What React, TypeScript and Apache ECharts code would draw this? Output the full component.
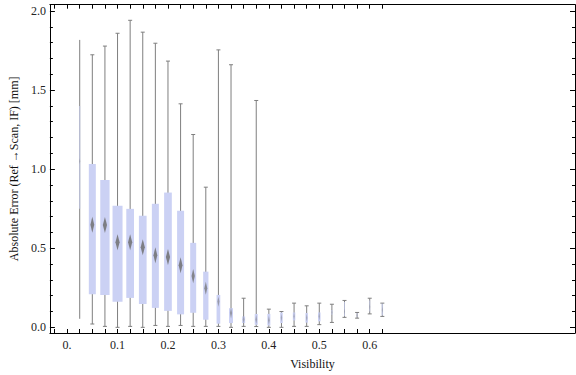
import React, { useEffect, useRef } from "react";
import * as echarts from "echarts";

// Visibility bins (box positions)
const visibility = [
  0.025, 0.05, 0.075, 0.1, 0.125, 0.15, 0.175, 0.2, 0.225, 0.25, 0.275, 0.3, 0.325,
  0.35, 0.375, 0.4, 0.425, 0.45, 0.475, 0.5, 0.525, 0.55, 0.575, 0.6, 0.625,
];
const whiskerLow = [
  0.054, 0.021, 0.006, 0.0, 0.006, 0.0, 0.012, 0.006, 0.012, 0.006, 0.006, 0.006, 0.0,
  0.006, 0.005, 0.0, 0.0, 0.006, 0.006, 0.017, 0.031, 0.063, 0.058, 0.085, 0.069,
];
const quartile1 = [
  0.75, 0.209, 0.205, 0.161, 0.186, 0.148, 0.123, 0.104, 0.082, 0.092, 0.048, 0.023, 0.027,
  0.027, 0.016, 0.012, 0.027, 0.044, 0.03, 0.038, 0.08, 0.07, 0.065, 0.1, 0.075,
];
const medians = [
  1.05, 0.649, 0.647, 0.538, 0.538, 0.507, 0.456, 0.444, 0.393, 0.324, 0.247, 0.163, 0.09,
  0.05, 0.05, 0.045, 0.06, 0.07, 0.06, 0.07, 0.095, 0.1, 0.075, 0.13, 0.11,
];
const quartile3 = [
  1.4, 1.032, 0.932, 0.768, 0.749, 0.705, 0.781, 0.852, 0.737, 0.534, 0.352, 0.205, 0.121,
  0.069, 0.085, 0.085, 0.094, 0.094, 0.09, 0.094, 0.11, 0.16, 0.09, 0.17, 0.15,
];
const whiskerHigh = [
  1.817, 1.723, 1.778, 1.859, 1.941, 1.866, 1.796, 1.683, 1.413, 1.219, 0.886, 1.754, 1.66,
  0.184, 1.434, 0.115, 0.1, 0.153, 0.136, 0.153, 0.146, 0.17, 0.094, 0.184, 0.153,
];
// relative sample weight (controls box width)
const sampleWeight = [
  0.12, 0.7, 0.93, 1.0, 0.77, 0.77, 0.7, 0.77, 0.7, 0.6, 0.53, 0.37, 0.4,
  0.3, 0.3, 0.3, 0.25, 0.25, 0.25, 0.25, 0.15, 0.1, 0.1, 0.1, 0.15,
];

const xTickValues = [
  -0.025, 0, 0.025, 0.05, 0.075, 0.1, 0.125, 0.15, 0.175, 0.2, 0.225, 0.25, 0.275, 0.3,
  0.325, 0.35, 0.375, 0.4, 0.425, 0.45, 0.475, 0.5, 0.525, 0.55, 0.575, 0.6, 0.625,
];
const xLabelValues = [0, 0.1, 0.2, 0.3, 0.4, 0.5, 0.6];
const xTickLabels = ["0.", "0.1", "0.2", "0.3", "0.4", "0.5", "0.6"];
const yMajorValues = [0, 0.5, 1.0, 1.5, 2.0];
const yTickLabels = ["0.0", "0.5", "1.0", "1.5", "2.0"];
const yMinorValues = [
  0.1, 0.2, 0.3, 0.4, 0.6, 0.7, 0.8, 0.9, 1.1, 1.2, 1.3, 1.4, 1.6, 1.7, 1.8, 1.9,
];

const FONT = "'Liberation Serif', 'Times New Roman', serif";
const X_MIN = -0.0341;
const X_MAX = 1.007;
const Y_MIN = -0.0358;
const Y_MAX = 2.0396;

export default function App() {
  const ref = useRef<HTMLDivElement>(null);
  useEffect(() => {
    if (!ref.current) return;
    const chart = echarts.init(ref.current, undefined, { renderer: "svg" });
    const data = visibility.map((v, i) => [
      v,
      whiskerLow[i],
      quartile1[i],
      medians[i],
      quartile3[i],
      whiskerHigh[i],
      sampleWeight[i],
    ]);

    const xAxisBase = {
      type: "value",
      min: X_MIN,
      max: X_MAX,
      splitLine: { show: false },
      axisLine: { show: true, onZero: false, lineStyle: { color: "#000", width: 1 } },
      axisTick: {
        show: true,
        inside: true,
        length: 4,
        customValues: xTickValues,
        lineStyle: { color: "#000", width: 1 },
      },
    };
    const yBase = {
      type: "value",
      min: Y_MIN,
      max: Y_MAX,
      splitLine: { show: false },
      offset: 0,
    };

    const option: any = {
      animation: false,
      grid: { left: 39, right: 1, top: 4.7, bottom: 40, containLabel: false },
      xAxis: [
        {
          ...xAxisBase,
          position: "bottom",
          axisLabel: {
            show: true,
            customValues: xLabelValues,
            formatter: (v: number) => {
              const idx = xLabelValues.findIndex((t) => Math.abs(t - v) < 1e-6);
              return idx >= 0 ? xTickLabels[idx] : "";
            },
            fontFamily: FONT,
            fontSize: 12,
            color: "#222",
            margin: 6,
          },
          name: "Visibility",
          nameLocation: "middle",
          nameGap: 25,
          nameTextStyle: { fontFamily: FONT, fontSize: 12, color: "#111" },
        },
        {
          ...xAxisBase,
          position: "top",
          axisLabel: { show: false },
        },
      ],
      yAxis: [
        {
          ...yBase,
          position: "left",
          axisLine: { show: true, onZero: false, lineStyle: { color: "#000", width: 1 } },
          axisTick: {
            show: true,
            inside: true,
            length: 5,
            customValues: yMajorValues,
            lineStyle: { color: "#000" },
          },
          axisLabel: {
            show: true,
            customValues: yMajorValues,
            formatter: (v: number) => {
              const idx = yMajorValues.findIndex((t) => Math.abs(t - v) < 1e-6);
              return idx >= 0 ? yTickLabels[idx] : "";
            },
            fontFamily: FONT,
            fontSize: 12,
            color: "#222",
            margin: 4,
          },
          name: "Absolute Error (Ref \u2192Scan, IF) [mm]",
          nameLocation: "middle",
          nameGap: 22,
          nameRotate: 90,
          nameTextStyle: { fontFamily: FONT, fontSize: 12, color: "#111" },
        },
        {
          ...yBase,
          position: "left",
          axisLine: { show: false, onZero: false },
          axisTick: {
            show: true,
            inside: true,
            length: 3,
            customValues: yMinorValues,
            lineStyle: { color: "#000" },
          },
          axisLabel: { show: false },
        },
        {
          ...yBase,
          position: "right",
          axisLine: { show: true, onZero: false, lineStyle: { color: "#000", width: 1 } },
          axisTick: {
            show: true,
            inside: true,
            length: 5,
            customValues: yMajorValues,
            lineStyle: { color: "#000" },
          },
          axisLabel: { show: false },
        },
        {
          ...yBase,
          position: "right",
          axisLine: { show: false, onZero: false },
          axisTick: {
            show: true,
            inside: true,
            length: 3,
            customValues: yMinorValues,
            lineStyle: { color: "#000" },
          },
          axisLabel: { show: false },
        },
      ],
      series: [
        {
          type: "custom",
          xAxisIndex: 0,
          yAxisIndex: 0,
          clip: false,
          encode: { x: 0, y: [1, 2, 3, 4, 5] },
          data,
          renderItem: (params: any, api: any) => {
            const x = api.value(0);
            const lo = api.coord([x, api.value(1)]);
            const q1 = api.coord([x, api.value(2)]);
            const md = api.coord([x, api.value(3)]);
            const q3 = api.coord([x, api.value(4)]);
            const hi = api.coord([x, api.value(5)]);
            const w = api.value(6);
            const cx = lo[0];
            const bw = Math.max(1, w * 10);
            const capW = 4;
            const whiskerStyle = { stroke: "#7f7f7f", lineWidth: 1 };
            const children: any[] = [
              {
                type: "line",
                shape: { x1: cx, y1: lo[1], x2: cx, y2: hi[1] },
                style: whiskerStyle,
              },
            ];
            if (params.dataIndex > 0) {
              children.push(
                {
                  type: "line",
                  shape: { x1: cx - capW / 2, y1: hi[1], x2: cx + capW / 2, y2: hi[1] },
                  style: whiskerStyle,
                },
                {
                  type: "line",
                  shape: { x1: cx - capW / 2, y1: lo[1], x2: cx + capW / 2, y2: lo[1] },
                  style: whiskerStyle,
                }
              );
            }
            children.push({
              type: "rect",
              shape: { x: cx - bw / 2, y: q3[1], width: bw, height: q1[1] - q3[1] },
              style: { fill: "#cbd1f4", opacity: w < 0.2 ? 0.7 : 1 },
            });
            const dw = Math.max(1, Math.min(4.2, bw * 0.55));
            const dh = 4 + 12 * Math.min(1, w / 0.7);
            children.push({
              type: "polygon",
              shape: {
                points: [
                  [cx, md[1] - dh / 2],
                  [cx + dw / 2, md[1]],
                  [cx, md[1] + dh / 2],
                  [cx - dw / 2, md[1]],
                ],
              },
              style: { fill: "#707070", opacity: Math.min(0.85, 0.2 + w) },
            });
            return { type: "group", children };
          },
        },
      ],
    };
    chart.setOption(option);
    return () => chart.dispose();
  }, []);
  return (
    <div
      ref={ref}
      style={{ position: "fixed", left: 0, top: 0, width: 576, height: 375, background: "#fff" }}
    />
  );
}
